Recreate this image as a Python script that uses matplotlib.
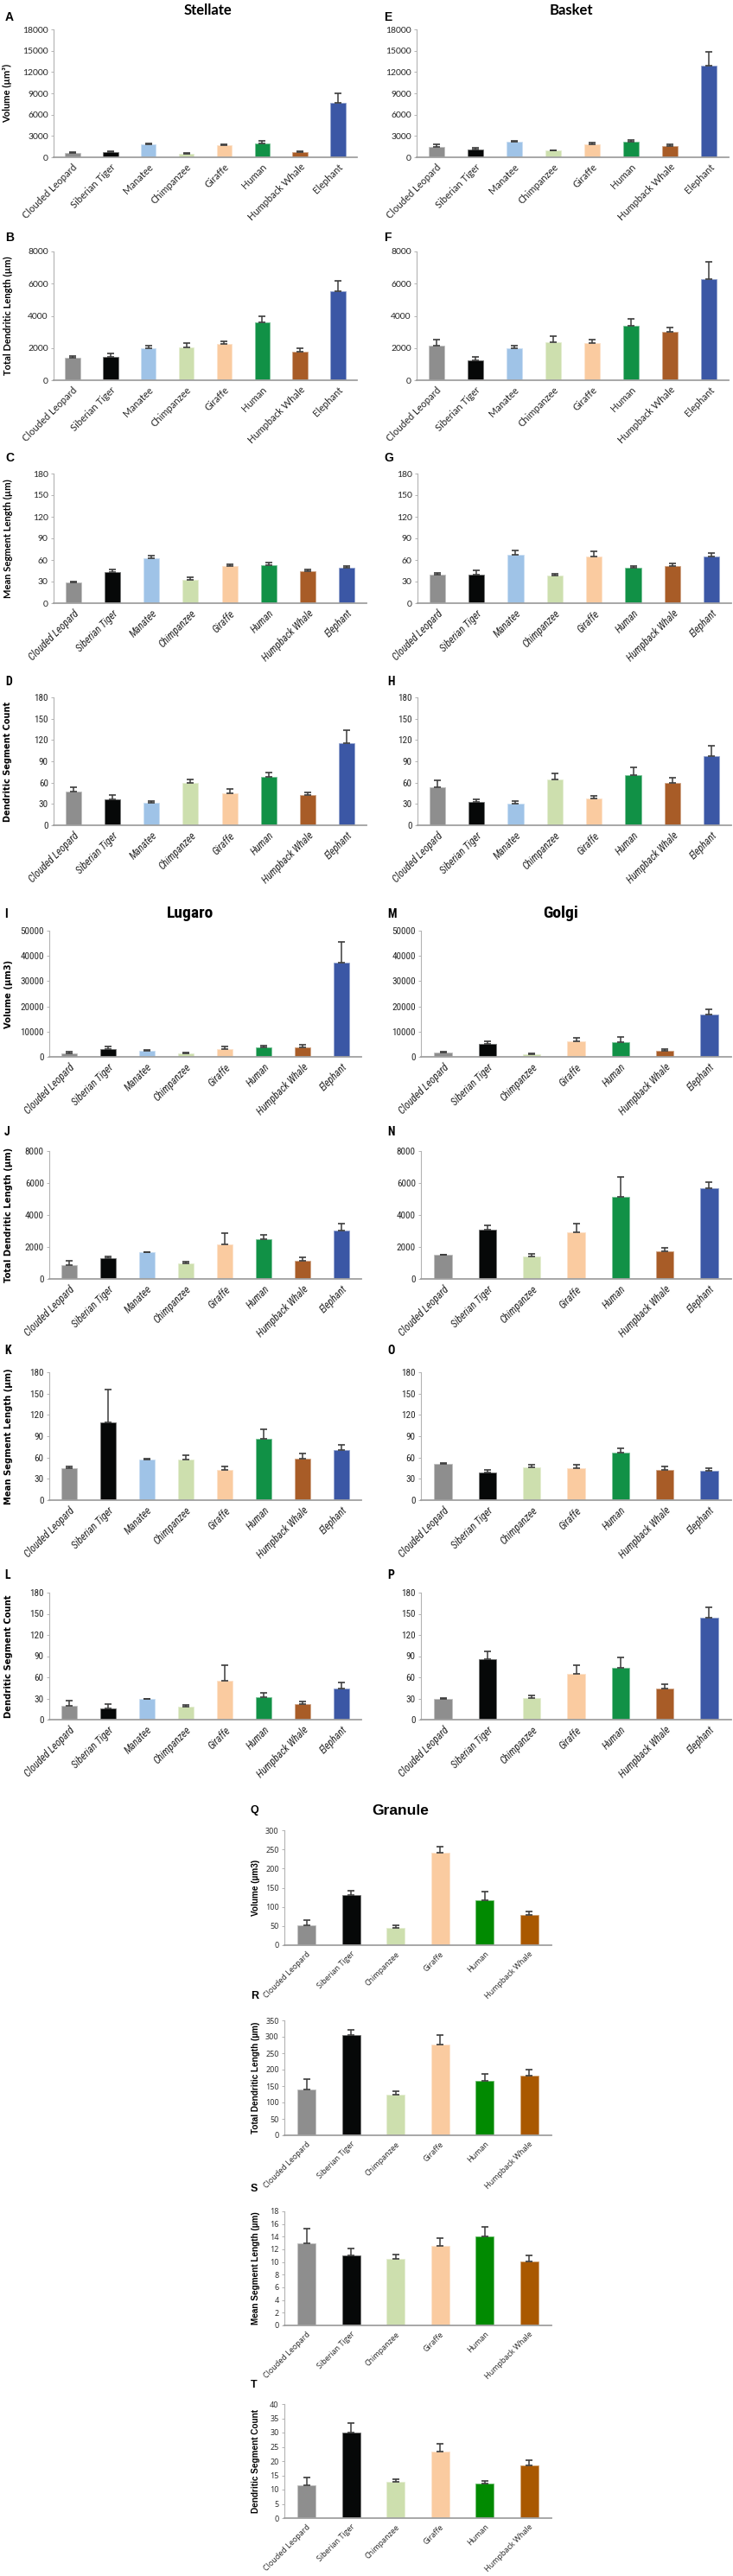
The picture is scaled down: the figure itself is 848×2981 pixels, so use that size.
"""Dendritic morphology of cerebellar interneurons across species: bar charts A-T."""
import matplotlib
matplotlib.use("Agg")
import matplotlib.pyplot as plt
import matplotlib.colors as mcolors
from matplotlib import font_manager
import numpy as np

W, H = 848, 2981

SPECIES8 = ["Clouded Leopard", "Siberian Tiger", "Manatee", "Chimpanzee",
            "Giraffe", "Human", "Humpback Whale", "Elephant"]
SPECIES7 = ["Clouded Leopard", "Siberian Tiger", "Chimpanzee",
            "Giraffe", "Human", "Humpback Whale", "Elephant"]
SPECIES6 = ["Clouded Leopard", "Siberian Tiger", "Chimpanzee",
            "Giraffe", "Human", "Humpback Whale"]

COLORS = {
    "Clouded Leopard": "#8e8e8e",
    "Siberian Tiger": "#060808",
    "Manatee": "#9fc3e7",
    "Chimpanzee": "#cddfae",
    "Giraffe": "#facba0",
    "Human": "#119146",
    "Humpback Whale": "#a85c27",
    "Elephant": "#3b57a5",
}
GRANULE_COLORS = dict(COLORS, **{"Human": "#018a01", "Humpback Whale": "#a95800"})

# ---- Stellate (8 species) ----
stellate_volume = [650, 780, 1820, 500, 1700, 1980, 780, 7650]
stellate_volume_err = [100, 120, 150, 100, 130, 300, 120, 1350]
stellate_length = [1370, 1440, 1960, 2030, 2260, 3590, 1780, 5520]
stellate_length_err = [110, 230, 210, 270, 140, 400, 200, 670]
stellate_seglen = [29, 43, 62, 33, 52, 53, 44, 49]
stellate_seglen_err = [1.2, 4.4, 4, 3, 2.5, 4, 3.2, 2.5]
stellate_count = [48, 36, 32, 59, 45.5, 68, 42, 115]
stellate_count_err = [5, 7, 2, 6, 5, 5.7, 3.7, 19]

# ---- Basket (8 species) ----
basket_volume = [1450, 1050, 2200, 950, 1870, 2150, 1620, 12900]
basket_volume_err = [330, 280, 160, 80, 180, 320, 160, 1950]
basket_length = [2150, 1260, 1975, 2385, 2300, 3360, 3010, 6260]
basket_length_err = [380, 200, 175, 340, 230, 430, 270, 1070]
basket_seglen = [40, 40, 67, 38.5, 65, 49, 52, 64.5]
basket_seglen_err = [1.5, 5.5, 6, 2.8, 7, 3, 3.5, 5.2]
basket_count = [53.5, 33, 31, 64, 38, 70, 60, 97]
basket_count_err = [10, 4, 3.3, 8.5, 3.7, 12, 6.5, 15.5]

# ---- Lugaro (8 species) ----
lugaro_volume = [1500, 3100, 2300, 1250, 3100, 3800, 3800, 37500]
lugaro_volume_err = [700, 1000, 350, 350, 1000, 800, 1100, 8000]
lugaro_length = [880, 1280, 1650, 950, 2140, 2470, 1120, 3030]
lugaro_length_err = [270, 130, 30, 130, 720, 290, 230, 410]
lugaro_seglen = [45, 109, 57, 57, 42, 86, 58, 71]
lugaro_seglen_err = [2.5, 47, 0.8, 6, 5.5, 14, 7.5, 6.5]
lugaro_count = [20, 16, 29, 18, 55, 32, 21.5, 44.5]
lugaro_count_err = [6.5, 6, 0.8, 3.3, 22, 6, 3.7, 8]

# ---- Golgi (7 species) ----
golgi_volume = [1600, 5000, 1150, 6300, 5950, 2300, 16700]
golgi_volume_err = [350, 1250, 350, 1100, 1800, 800, 2000]
golgi_length = [1500, 3060, 1430, 2900, 5120, 1730, 5700]
golgi_length_err = [30, 310, 160, 580, 1260, 240, 380]
golgi_seglen = [51, 38.5, 46.5, 45.5, 67.5, 42.5, 41]
golgi_seglen_err = [1, 4, 3.5, 4.5, 5.7, 4.5, 3.5]
golgi_count = [30, 86, 30.5, 64.5, 74, 44, 144]
golgi_count_err = [0.8, 11, 3.3, 12.5, 14.5, 6, 15.5]

# ---- Granule (6 species) ----
granule_volume = [51, 130, 46, 242, 118, 78]
granule_volume_err = [14.5, 12, 5, 15.5, 22, 10.5]
granule_length = [140, 304, 125, 276, 167, 181]
granule_length_err = [31, 17, 10.5, 30, 20, 18.5]
granule_seglen = [13, 11, 10.5, 12.6, 14, 10.1]
granule_seglen_err = [2.3, 1.1, 0.7, 1.2, 1.55, 0.9]
granule_count = [11.5, 30, 12.7, 23.4, 12, 18.4]
granule_count_err = [2.6, 3.4, 1, 2.6, 1, 2]

TICKS_VOL_S = list(range(0, 18001, 3000))
TICKS_LEN = list(range(0, 8001, 2000))
TICKS_180 = list(range(0, 181, 30))
TICKS_VOL_L = list(range(0, 50001, 10000))

# pick a condensed face if one is installed
_installed = {f.name for f in font_manager.fontManager.ttflist}
_narrow = next((n for n in ["Liberation Sans Narrow", "DejaVu Sans Condensed",
                            "Roboto Condensed", "Open Sans Condensed"]
                if n in _installed), "Liberation Sans")

LATO = ["Lato", "DejaVu Sans"]
NARROW = [_narrow, "DejaVu Sans"]
ARIAL = ["Liberation Sans", "DejaVu Sans"]
OPEN = ["Open Sans", "DejaVu Sans"]
VERDANA = ["DejaVu Sans"]

TXT = "#262626"

fig = plt.figure(figsize=(W / 100, H / 100), dpi=100)


def fx(x):
    return x / W


def fy(y):
    return 1 - y / H


def lighter(c, f=0.45):
    r, g, b = mcolors.to_rgb(c)
    return (r + (1 - r) * f, g + (1 - g) * f, b + (1 - b) * f)


def panel(box, cats, vals, errs, yticks, colors=COLORS, ytick_font=LATO, ytick_size=7.5,
          xl_font=LATO, xl_size=8, xl_style="normal", ylabel=None, ylabel_x=None,
          ylabel_font=LATO, ylabel_size=8):
    left, top, right, bottom = box
    ax = fig.add_axes([fx(left), fy(bottom), (right - left) / W, (bottom - top) / H])
    x = np.arange(len(cats))
    cols = [colors[c] for c in cats]
    ax.bar(x, vals, width=0.4, color=cols, edgecolor=[lighter(c) for c in cols],
           linewidth=0.6, zorder=2)
    ax.errorbar(x, vals, yerr=[np.zeros(len(vals)), errs], fmt="none",
                ecolor="#3c3c3c", elinewidth=1.1, capsize=2.6, capthick=1.2,
                zorder=3, clip_on=False)
    ax.set_xlim(-0.5, len(cats) - 0.5)
    ax.set_ylim(0, yticks[-1])
    ax.set_yticks(yticks)
    ax.set_yticklabels([str(t) for t in yticks], family=ytick_font,
                       fontsize=ytick_size, color=TXT)
    ax.set_xticks(x)
    ax.set_xticklabels(cats, rotation=45, ha="right", va="top",
                       rotation_mode="anchor", family=xl_font, fontsize=xl_size,
                       style=xl_style, color=TXT)
    for s in ("top", "right"):
        ax.spines[s].set_visible(False)
    ax.spines["left"].set_color("#b3b3b3")
    ax.spines["left"].set_linewidth(0.8)
    ax.spines["bottom"].set_color("#a0a0a0")
    ax.spines["bottom"].set_linewidth(1.3)
    ax.tick_params(axis="y", length=2.5, width=0.7, color="#b3b3b3", pad=2)
    ax.tick_params(axis="x", length=0, pad=4)
    if ylabel:
        fig.text(fx(ylabel_x), fy((top + bottom) / 2), ylabel, rotation=90,
                 ha="center", va="center", family=ylabel_font,
                 fontsize=ylabel_size, fontweight="bold", color="black")
    return ax


def letter(x, y, s, font=ARIAL, size=10):
    fig.text(fx(x), fy(y), s, ha="left", va="center", family=font,
             fontsize=size, fontweight="bold", color="black")


def title(x, y, s, font=LATO, size=12):
    fig.text(fx(x), fy(y), s, ha="center", va="center", family=font,
             fontsize=size, fontweight="bold", color="black")


# ---------- Stellate / Basket ----------
title(240, 12, "Stellate", LATO, 12)
title(661, 12, "Basket", LATO, 12)

rows_top = [
    (20, 34, 182, stellate_volume, stellate_volume_err, basket_volume, basket_volume_err,
     TICKS_VOL_S, "Volume (µm³)", "A", "E"),
    (275, 291, 440, stellate_length, stellate_length_err, basket_length, basket_length_err,
     TICKS_LEN, "Total Dendritic Length (µm)", "B", "F"),
]
for ly, t, b, sv, se, bv, be, ticks, lab, la, lb in rows_top:
    letter(6, ly, la)
    letter(444, ly, lb)
    panel((62, t, 413, b), SPECIES8, sv, se, ticks, ylabel=lab, ylabel_x=9)
    panel((482, t, 843, b), SPECIES8, bv, be, ticks)

# C / G: regular y ticks, italic narrow category labels
letter(6, 530, "C")
letter(444, 530, "G")
panel((62, 548, 424, 698), SPECIES8, stellate_seglen, stellate_seglen_err, TICKS_180,
      xl_font=NARROW, xl_size=8.5, xl_style="italic",
      ylabel="Mean Segment Length (µm)", ylabel_x=9)
panel((483, 548, 846, 698), SPECIES8, basket_seglen, basket_seglen_err, TICKS_180,
      xl_font=NARROW, xl_size=8.5, xl_style="italic")

# D / H
letter(6, 789, "D", NARROW, 10)
letter(448, 789, "H", NARROW, 10)
narrow_kw = dict(ytick_font=NARROW, ytick_size=8, xl_font=NARROW, xl_size=8.5,
                 xl_style="italic")
panel((62, 807, 424, 955), SPECIES8, stellate_count, stellate_count_err, TICKS_180,
      ylabel="Dendritic Segment Count", ylabel_x=9, ylabel_font=VERDANA,
      ylabel_size=7, **narrow_kw)
panel((483, 807, 846, 955), SPECIES8, basket_count, basket_count_err, TICKS_180,
      **narrow_kw)

# ---------- Lugaro / Golgi ----------
title(220, 1057, "Lugaro", NARROW, 14)
title(649, 1057, "Golgi", NARROW, 14)
rows_mid = [
    (1058, 1077, 1223, lugaro_volume, lugaro_volume_err, golgi_volume, golgi_volume_err,
     TICKS_VOL_L, "Volume (µm3)", "I", "M"),
    (1310, 1332, 1480, lugaro_length, lugaro_length_err, golgi_length, golgi_length_err,
     TICKS_LEN, "Total Dendritic Length (µm)", "J", "N"),
    (1563, 1588, 1736, lugaro_seglen, lugaro_seglen_err, golgi_seglen, golgi_seglen_err,
     TICKS_180, "Mean Segment Length (µm)", "K", "O"),
    (1823, 1843, 1990, lugaro_count, lugaro_count_err, golgi_count, golgi_count_err,
     TICKS_180, "Dendritic Segment Count", "L", "P"),
]
for ly, t, b, lv, le, gv, ge, ticks, lab, la, lb in rows_mid:
    letter(5, ly, la, NARROW, 10)
    letter(448, ly, lb, NARROW, 10)
    panel((57, t, 418, b), SPECIES8, lv, le, ticks, ylabel=lab, ylabel_x=10,
          ylabel_font=VERDANA, ylabel_size=7.2, **narrow_kw)
    panel((487, t, 846, b), SPECIES7, gv, ge, ticks, **narrow_kw)

# ---------- Granule ----------
title(463, 2096, "Granule", ARIAL, 12.5)
granule_rows = [
    (2095, 2118, 2251, granule_volume, granule_volume_err, list(range(0, 301, 50)),
     "Volume (µm3)", "Q"),
    (2310, 2338, 2471, granule_length, granule_length_err, list(range(0, 351, 50)),
     "Total Dendritic Length (µm)", "R"),
    (2533, 2559, 2691, granule_seglen, granule_seglen_err, list(range(0, 19, 2)),
     "Mean Segment Length (µm)", "S"),
    (2760, 2782, 2914, granule_count, granule_count_err, list(range(0, 41, 5)),
     "Dendritic Segment Count", "T"),
]
for ly, t, b, v, e, ticks, lab, la in granule_rows:
    letter(290, ly, la, ARIAL, 9)
    panel((329, t, 638, b), SPECIES6, v, e, ticks, colors=GRANULE_COLORS,
          ytick_font=OPEN, ytick_size=6.5, xl_font=OPEN, xl_size=6.5,
          ylabel=lab, ylabel_x=296, ylabel_font=ARIAL, ylabel_size=7.2)

fig.savefig("out.png", dpi=100, facecolor="white")
